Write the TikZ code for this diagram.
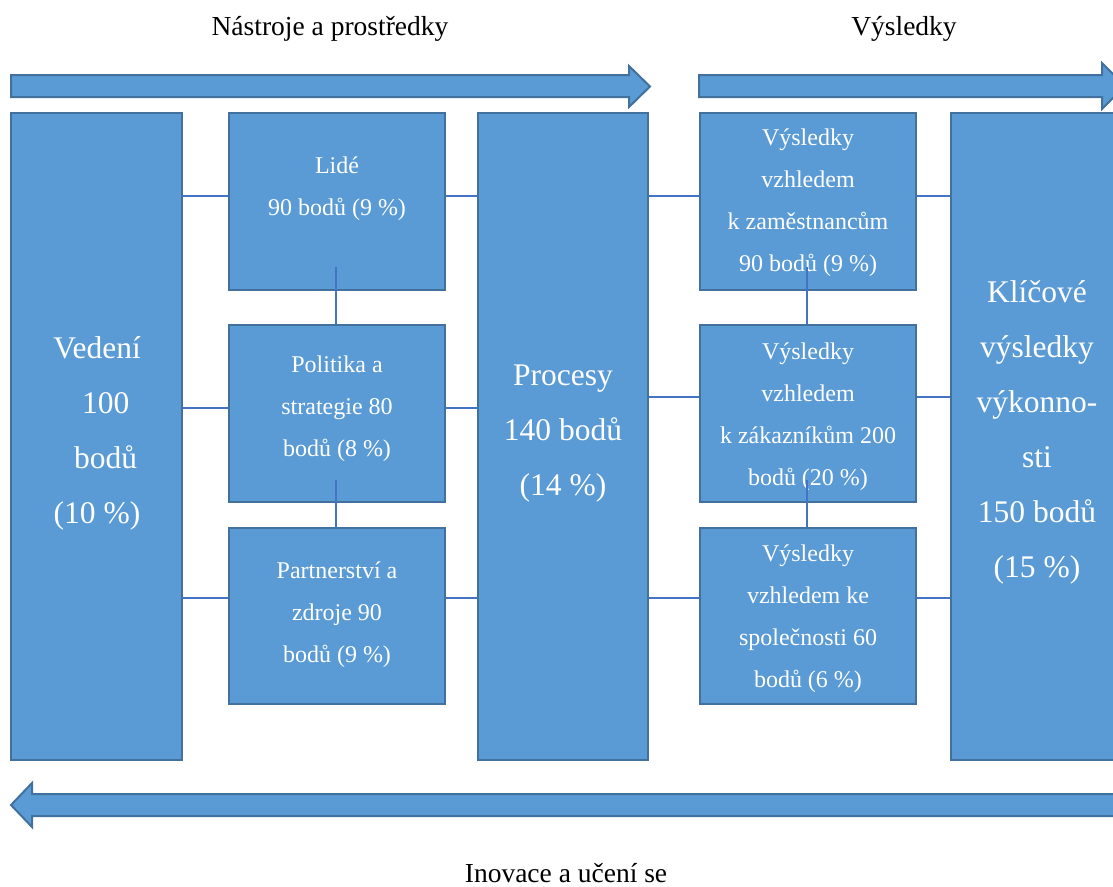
\documentclass[tikz,border=0pt]{standalone}
\usepackage{fontspec}
\setmainfont{Liberation Serif}
\definecolor{boxfill}{HTML}{5B9BD5}
\definecolor{boxline}{HTML}{41719C}
\definecolor{connc}{HTML}{4472C4}
\begin{document}
\begin{tikzpicture}[x=1pt,y=-1pt,
  box/.style={draw=boxline, fill=boxfill, line width=2.5pt, inner sep=0pt, rectangle},
  conn/.style={draw=connc, line width=2pt},
  bigarrow/.style={draw=boxline, fill=boxfill, line width=2pt, line join=miter},
  smalltxt/.style={text=white, align=center, inner sep=0pt, font=\fontsize{24}{42}\selectfont},
  bigtxt/.style={text=white, align=center, inner sep=0pt, font=\fontsize{31.5}{55}\selectfont},
  titletxt/.style={inner sep=0pt, font=\fontsize{27.5}{32}\selectfont}]
\useasboundingbox (0,0) rectangle (1113,886);

% titles
\node[titletxt] (tnastroje) at (330,29) {Nástroje a prostředky};
\node[titletxt] (tvysledky) at (904,29) {Výsledky};
\node[titletxt] (tinovace) at (566,873.5) {Inovace a učení se};

% big arrows
\draw[bigarrow] (11,75) -- (629,75) -- (629,66) -- (650,86.5) -- (629,107) -- (629,97) -- (11,97) -- cycle;
\draw[bigarrow] (699,75) -- (1102,75) -- (1102,63) -- (1125,86) -- (1102,109) -- (1102,97) -- (699,97) -- cycle;
\draw[bigarrow] (11,805) -- (32,783) -- (32,794) -- (1135,794) -- (1135,816) -- (32,816) -- (32,827) -- cycle;

% boxes
\node[box, minimum width=171pt, minimum height=647pt] (ved) at (96.5,436.5) {};
\node[box, minimum width=216pt, minimum height=177pt] (lide) at (337,201.5) {};
\node[box, minimum width=216pt, minimum height=177pt] (polit) at (337,413.5) {};
\node[box, minimum width=216pt, minimum height=176pt] (partn) at (337,616) {};
\node[box, minimum width=170pt, minimum height=647pt] (proc) at (563,436.5) {};
\node[box, minimum width=216pt, minimum height=177pt] (vzam) at (808,201.5) {};
\node[box, minimum width=216pt, minimum height=177pt] (vzak) at (808,413.5) {};
\node[box, minimum width=216pt, minimum height=176pt] (vspol) at (808,616) {};
\node[box, minimum width=172pt, minimum height=647pt] (klic) at (1037,436.5) {};

% texts
\node[bigtxt] (vedt) at (97,433) {Vedení\\\hspace*{0.55em}100\\\hspace*{0.55em}bodů\\(10 \%)};
\node[smalltxt] (lidet) at (337,189) {Lidé\\90 bodů (9 \%)};
\node[smalltxt] (polt) at (337,409) {Politika a\\strategie 80\\bodů (8 \%)};
\node[smalltxt] (partt) at (337,615) {Partnerství a\\zdroje 90\\bodů (9 \%)};
\node[bigtxt] (proct) at (563,434) {Procesy\\140 bodů\\(14 \%)};
\node[smalltxt] (vzamt) at (808,203) {Výsledky\\vzhledem\\k zaměstnancům\\90 bodů (9 \%)};
\node[smalltxt] (vzakt) at (808,417) {Výsledky\\vzhledem\\k zákazníkům 200\\bodů (20 \%)};
\node[smalltxt] (vspolt) at (808,619) {Výsledky\\vzhledem ke\\společnosti 60\\bodů (6 \%)};
\node[bigtxt] (klict) at (1037,432) {Klíčové\\výsledky\\výkonno-\\sti\\150 bodů\\(15 \%)};

% horizontal connectors
\draw[conn] (ved.east |- 0,196) -- (lide.west |- 0,196);
\draw[conn] (lide.east |- 0,196) -- (proc.west |- 0,196);
\draw[conn] (ved.east |- 0,408) -- (polit.west |- 0,408);
\draw[conn] (polit.east |- 0,408) -- (proc.west |- 0,408);
\draw[conn] (ved.east |- 0,598) -- (partn.west |- 0,598);
\draw[conn] (partn.east |- 0,598) -- (proc.west |- 0,598);
\draw[conn] (proc.east |- 0,196) -- (vzam.west |- 0,196);
\draw[conn] (vzam.east |- 0,196) -- (klic.west |- 0,196);
\draw[conn] (proc.east |- 0,397) -- (vzak.west |- 0,397);
\draw[conn] (vzak.east |- 0,397) -- (klic.west |- 0,397);
\draw[conn] (proc.east |- 0,598) -- (vspol.west |- 0,598);
\draw[conn] (vspol.east |- 0,598) -- (klic.west |- 0,598);

% vertical connectors
\draw[conn] (336,267) -- (polit.north -| 336,0);
\draw[conn] (336,480) -- (partn.north -| 336,0);
\draw[conn] (807,267) -- (vzak.north -| 807,0);
\draw[conn] (807,480) -- (vspol.north -| 807,0);
\end{tikzpicture}
\end{document}
